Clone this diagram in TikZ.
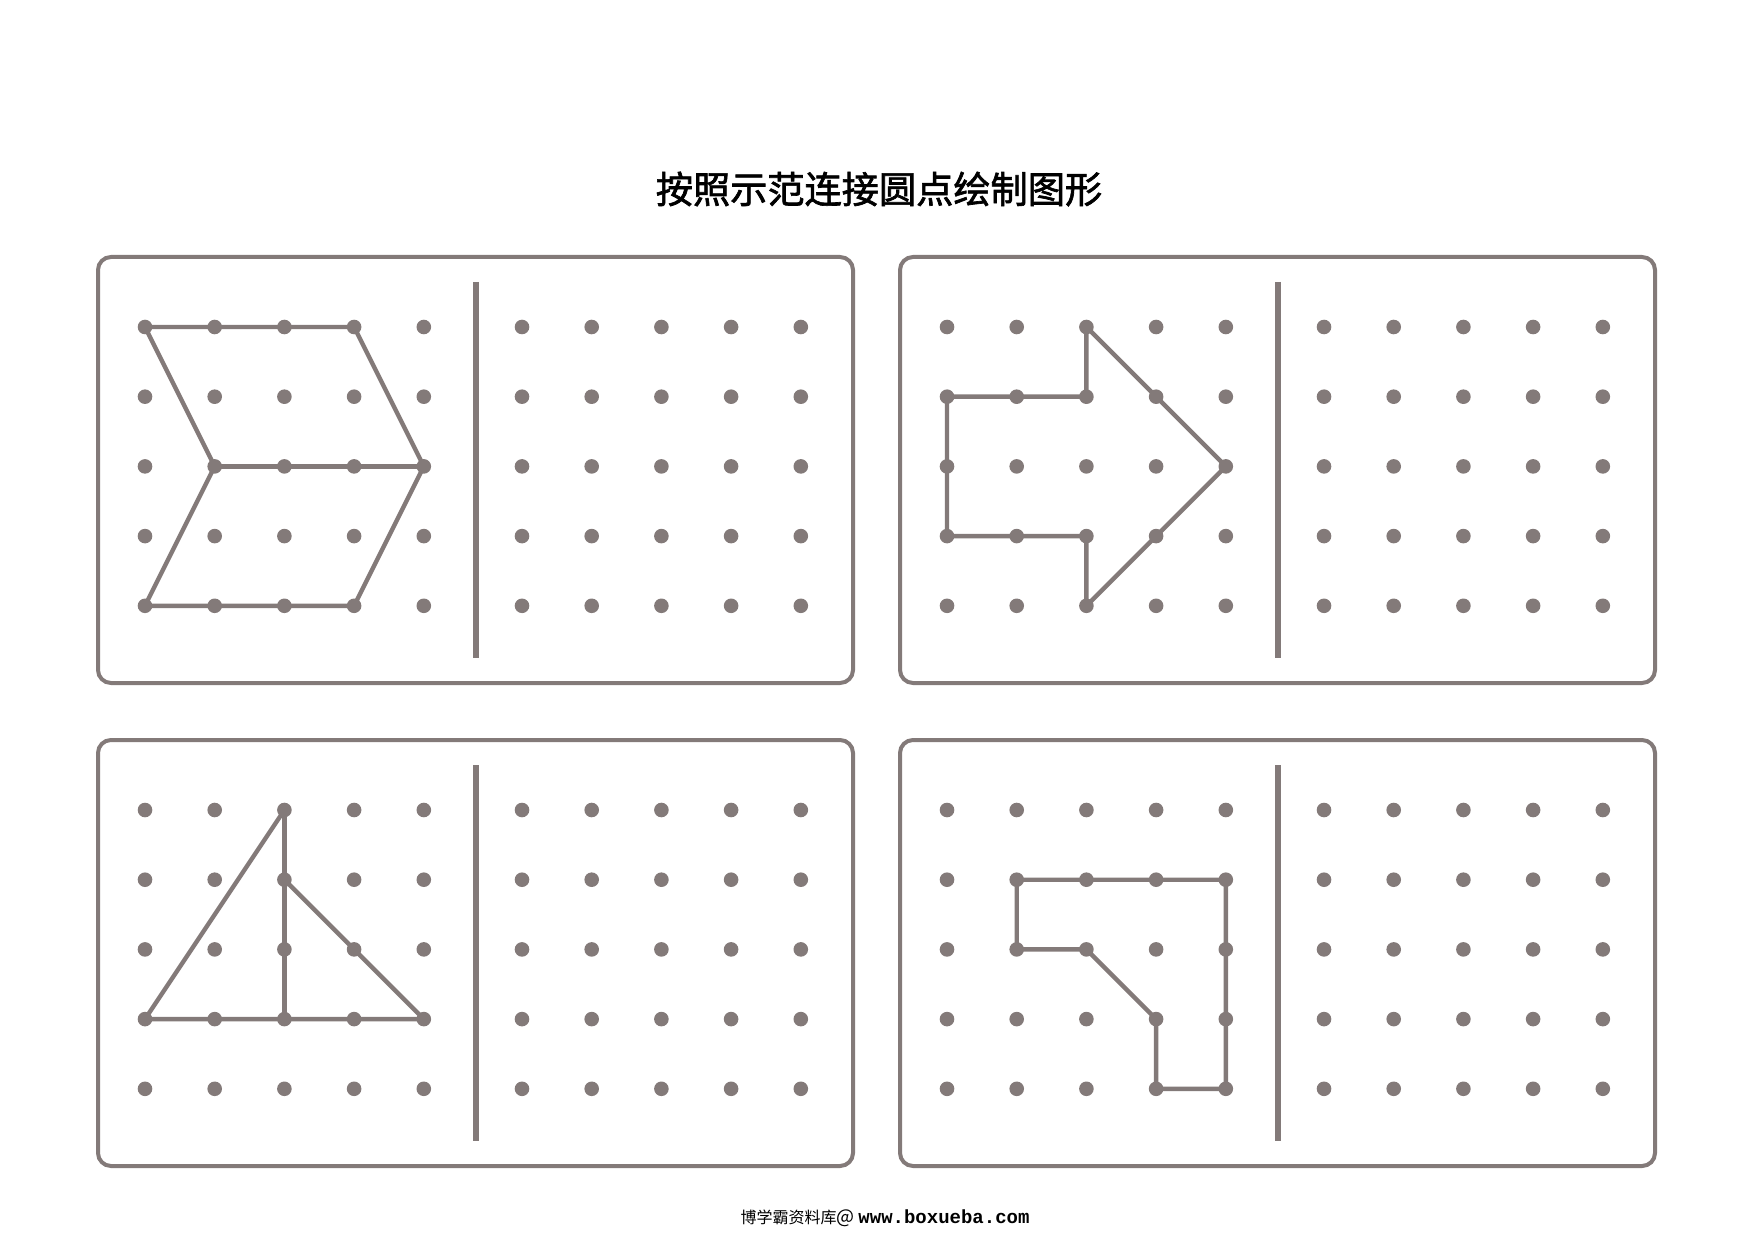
\documentclass[tikz,border=0pt]{standalone}
\usepackage{fontspec}
\newfontfamily\cjk{Noto Sans CJK SC}[FakeBold=1.8]
\newfontfamily\cjkfoot{Noto Sans CJK SC}
\newfontfamily\monof{Liberation Mono}
\definecolor{pg}{RGB}{131,122,121}
\tikzset{
  gdot/.style={circle,fill=pg,inner sep=0pt,minimum size=7.3pt},
  panelbox/.style={draw=pg,line width=2pt,rounded corners=6.5pt},
  divider/.style={draw=pg,line width=3pt},
  shapeline/.style={draw=pg,line width=2.2pt,line join=round,line cap=round},
}
\newcommand\dotpanel[3]{%
  \draw[panelbox] (#2,#3) rectangle ++(755,426);
  \draw[divider] (#2+378,#3+25) -- (#2+378,#3+401);
  \foreach \c in {1,...,5} {
    \foreach \r in {1,...,5} {
      \node[gdot] (#1l-\c-\r) at ({#2+47+(\c-1)*69.7},{#3+70+(\r-1)*69.7}) {};
      \node[gdot] (#1r-\c-\r) at ({#2+424+(\c-1)*69.7},{#3+70+(\r-1)*69.7}) {};
    }
  }
}
\begin{document}
\begin{tikzpicture}[x=0.5pt,y=-0.5pt]
\fill[white] (0,0) rectangle (1754,1240);
\useasboundingbox (0,0) rectangle (1754,1240);

\node (title) at (879,189) {\cjk\fontsize{18.6}{22}\selectfont 按照示范连接圆点绘制图形};
\node (foot) at (885,1218) {\cjkfoot\fontsize{8}{10}\selectfont 博学霸资料库\fontsize{9.5}{10}\selectfont@\hspace{2pt}\monof\bfseries www.boxueba.com};

\dotpanel{a}{98}{257}
\dotpanel{b}{900}{257}
\dotpanel{c}{98}{740}
\dotpanel{d}{900}{740}

% panel a: chevron
\draw[shapeline] (al-1-1.center) -- (al-4-1.center) -- (al-5-3.center) -- (al-4-5.center)
  -- (al-1-5.center) -- (al-2-3.center) -- cycle;
\draw[shapeline] (al-2-3.center) -- (al-5-3.center);

% panel b: arrow
\draw[shapeline] (bl-3-1.center) -- (bl-3-2.center) -- (bl-1-2.center) -- (bl-1-4.center)
  -- (bl-3-4.center) -- (bl-3-5.center) -- (bl-5-3.center) -- cycle;

% panel c: triangle
\draw[shapeline] (cl-3-1.center) -- (cl-1-4.center) -- (cl-5-4.center) -- (cl-3-2.center);
\draw[shapeline] (cl-3-1.center) -- (cl-3-4.center);

% panel d
\draw[shapeline] (dl-2-2.center) -- (dl-5-2.center) -- (dl-5-5.center) -- (dl-4-5.center)
  -- (dl-4-4.center) -- (dl-3-3.center) -- (dl-2-3.center) -- cycle;
\end{tikzpicture}
\end{document}
